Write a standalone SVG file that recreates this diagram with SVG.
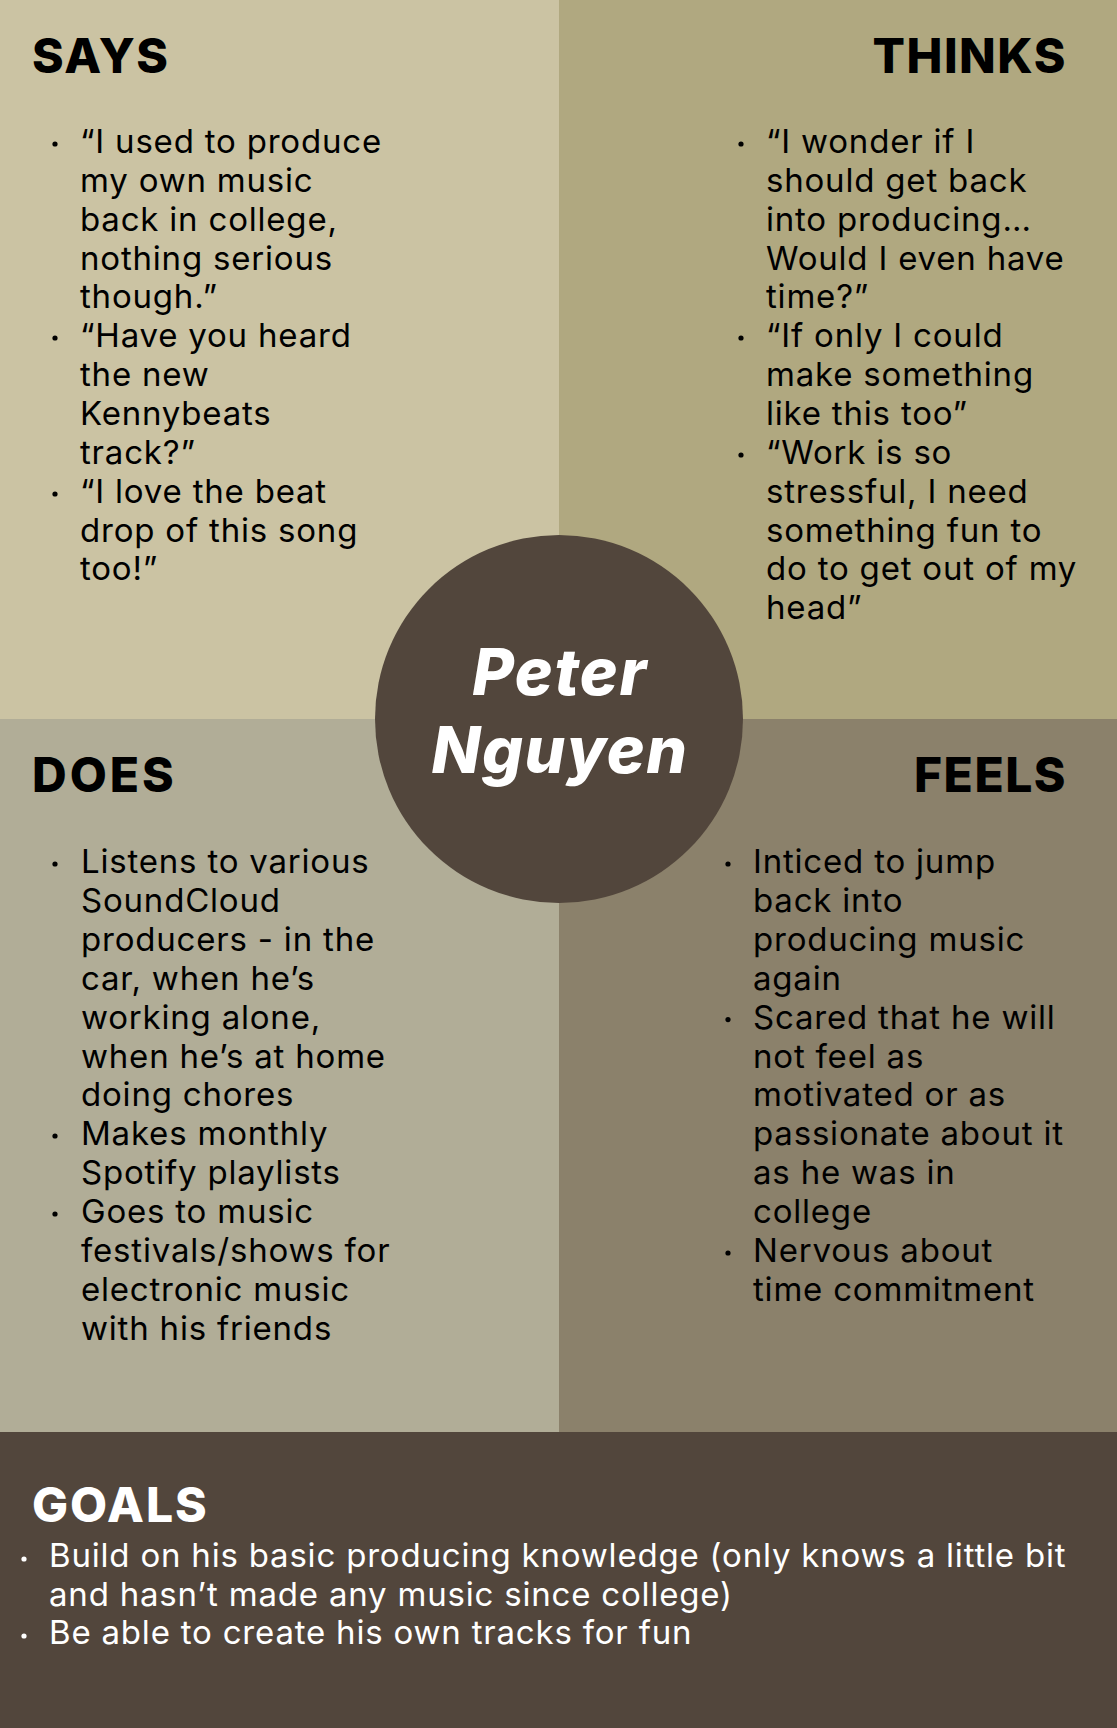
<svg xmlns="http://www.w3.org/2000/svg" width="1117" height="1728" viewBox="0 0 1117 1728">
<style>
.h{font-family:Inter,"Open Sans","Liberation Sans",sans-serif;font-weight:800;font-size:48px;letter-spacing:1.5px;fill:#000}
.b{font-family:Inter,"Open Sans","Liberation Sans",sans-serif;font-weight:400;font-size:33px;letter-spacing:0.8px;fill:#000}
.w{fill:#fff}
.dot{fill:#000}
.wd{fill:#fff}
.name{font-family:Inter,"Open Sans","Liberation Sans",sans-serif;font-weight:800;font-style:italic;font-size:64px;letter-spacing:1.5px;fill:#fff}
</style>
<g id="says">
<rect x="0" y="0" width="559" height="719" fill="#CBC3A3"/>
<text class="h" x="32" y="73">SAYS</text>
<circle class="dot" cx="55" cy="144" r="2.6"/>
<circle class="dot" cx="55" cy="338" r="2.6"/>
<circle class="dot" cx="55" cy="494" r="2.6"/>
<text class="b">
<tspan x="80" y="153">“I used to produce</tspan>
<tspan x="80" y="191.9">my own music</tspan>
<tspan x="80" y="230.7">back in college,</tspan>
<tspan x="80" y="269.6">nothing serious</tspan>
<tspan x="80" y="308.4">though.”</tspan>
<tspan x="80" y="347.3">“Have you heard</tspan>
<tspan x="80" y="386.1">the new</tspan>
<tspan x="80" y="425">Kennybeats</tspan>
<tspan x="80" y="463.8">track?”</tspan>
<tspan x="80" y="502.7">“I love the beat</tspan>
<tspan x="80" y="541.5">drop of this song</tspan>
<tspan x="80" y="580.4">too!”</tspan>
</text>
</g>
<g id="thinks">
<rect x="559" y="0" width="558" height="719" fill="#B0A880"/>
<text class="h" x="1067" y="73" text-anchor="end">THINKS</text>
<circle class="dot" cx="741" cy="144" r="2.6"/>
<circle class="dot" cx="741" cy="338" r="2.6"/>
<circle class="dot" cx="741" cy="455" r="2.6"/>
<text class="b">
<tspan x="766" y="153">“I wonder if I</tspan>
<tspan x="766" y="191.9">should get back</tspan>
<tspan x="766" y="230.7">into producing…</tspan>
<tspan x="766" y="269.6">Would I even have</tspan>
<tspan x="766" y="308.4">time?”</tspan>
<tspan x="766" y="347.3">“If only I could</tspan>
<tspan x="766" y="386.1">make something</tspan>
<tspan x="766" y="425">like this too”</tspan>
<tspan x="766" y="463.8">“Work is so</tspan>
<tspan x="766" y="502.7">stressful, I need</tspan>
<tspan x="766" y="541.5">something fun to</tspan>
<tspan x="766" y="580.4">do to get out of my</tspan>
<tspan x="766" y="619.2">head”</tspan>
</text>
</g>
<g id="does">
<rect x="0" y="719" width="559" height="713" fill="#B1AD97"/>
<text class="h" x="32" y="792" style="letter-spacing:3px">DOES</text>
<circle class="dot" cx="55" cy="864" r="2.6"/>
<circle class="dot" cx="55" cy="1136" r="2.6"/>
<circle class="dot" cx="55" cy="1214" r="2.6"/>
<text class="b">
<tspan x="81" y="873">Listens to various</tspan>
<tspan x="81" y="911.9">SoundCloud</tspan>
<tspan x="81" y="950.8">producers - in the</tspan>
<tspan x="81" y="989.7">car, when he’s</tspan>
<tspan x="81" y="1028.6">working alone,</tspan>
<tspan x="81" y="1067.5">when he’s at home</tspan>
<tspan x="81" y="1106.4">doing chores</tspan>
<tspan x="81" y="1145.3">Makes monthly</tspan>
<tspan x="81" y="1184.2">Spotify playlists</tspan>
<tspan x="81" y="1223.1">Goes to music</tspan>
<tspan x="81" y="1262">festivals/shows for</tspan>
<tspan x="81" y="1300.9">electronic music</tspan>
<tspan x="81" y="1339.8">with his friends</tspan>
</text>
</g>
<g id="feels">
<rect x="559" y="719" width="558" height="713" fill="#8B816B"/>
<text class="h" x="1067" y="792" text-anchor="end">FEELS</text>
<circle class="dot" cx="728" cy="864" r="2.6"/>
<circle class="dot" cx="728" cy="1019.6" r="2.6"/>
<circle class="dot" cx="728" cy="1253" r="2.6"/>
<text class="b">
<tspan x="753" y="873">Inticed to jump</tspan>
<tspan x="753" y="911.9">back into</tspan>
<tspan x="753" y="950.8">producing music</tspan>
<tspan x="753" y="989.7">again</tspan>
<tspan x="753" y="1028.6">Scared that he will</tspan>
<tspan x="753" y="1067.5">not feel as</tspan>
<tspan x="753" y="1106.4">motivated or as</tspan>
<tspan x="753" y="1145.3">passionate about it</tspan>
<tspan x="753" y="1184.2">as he was in</tspan>
<tspan x="753" y="1223.1">college</tspan>
<tspan x="753" y="1262">Nervous about</tspan>
<tspan x="753" y="1300.9">time commitment</tspan>
</text>
</g>
<g id="persona">
<circle cx="559" cy="719" r="184" fill="#52463C"/>
<text class="name" x="560" y="695" text-anchor="middle">Peter</text>
<text class="name" x="560" y="773" text-anchor="middle">Nguyen</text>
</g>
<g id="goals">
<rect x="0" y="1432" width="1117" height="296" fill="#52463C"/>
<text class="h w" x="32" y="1522" style="letter-spacing:2px">GOALS</text>
<circle class="wd" cx="24" cy="1559" r="2.6"/>
<circle class="wd" cx="24" cy="1636" r="2.6"/>
<text class="b w">
<tspan x="49" y="1567">Build on his basic producing knowledge (only knows a little bit</tspan>
<tspan x="49" y="1605.5">and hasn’t made any music since college)</tspan>
<tspan x="49" y="1644">Be able to create his own tracks for fun</tspan>
</text>
</g>
<g id="connectors"></g>
</svg>
